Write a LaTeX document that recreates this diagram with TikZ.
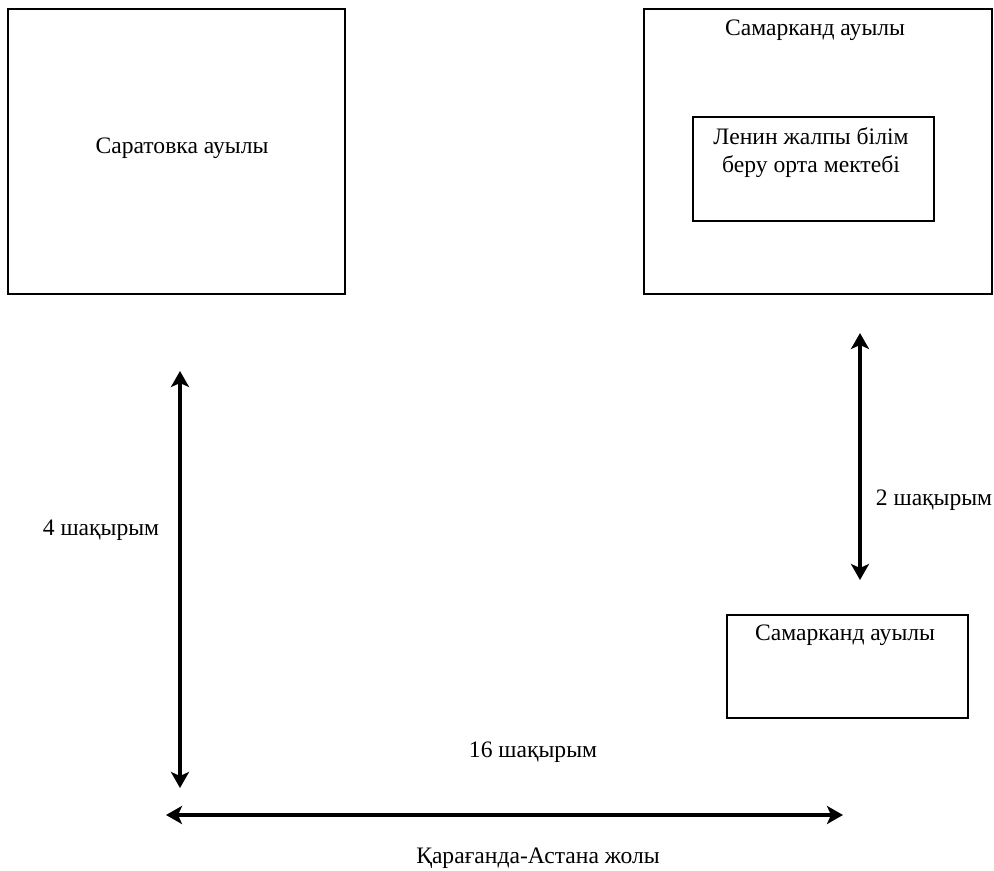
\documentclass[tikz,border=0pt]{standalone}
\usepackage{fontspec}
\setmainfont{Liberation Serif}
\usetikzlibrary{arrows.meta}

\begin{document}
\begin{tikzpicture}[x=0.5pt,y=-0.5pt,
    box/.style={line width=1pt},
    road/.style={<->,line width=2pt,>={Stealth[length=8pt,width=9pt,inset=2pt]}},
    lbl/.style={font=\fontsize{11.8}{14}\selectfont,inner sep=0pt}]
    \useasboundingbox(0,0)rectangle(994,871);

    \draw[box](8,9)rectangle(345,294);
    \node[lbl](saratov)at(182,148){Саратовка ауылы};

    \draw[box](644,9)rectangle(992,294);
    \node[lbl](samtop)at(815,30){Самарканд ауылы};
    \draw[box](693,117)rectangle(934,221);
    \node[lbl,align=center](school)at(811,153){Ленин жалпы білім\\беру орта мектебі};

    \draw[box](727,615)rectangle(968,718);
    \node[lbl](sambot)at(845,635){Самарканд ауылы};

    \coordinate(la)at(180,371);
    \coordinate(lb)at(180,788);
    \draw[road](la)--(lb);
    \node[lbl](four)at(101,530){4 шақырым};

    \coordinate(ra)at(860,333);
    \coordinate(rb)at(860,580);
    \draw[road](ra)--(rb);
    \node[lbl](two)at(934,500){2 шақырым};

    \coordinate(ha)at(166,815);
    \coordinate(hb)at(843,815);
    \draw[road](ha)--(hb);
    \node[lbl](sixteen)at(533,752){16 шақырым};
    \node[lbl](road)at(538,858){Қарағанда-Астана жолы};
\end{tikzpicture}
\end{document}
